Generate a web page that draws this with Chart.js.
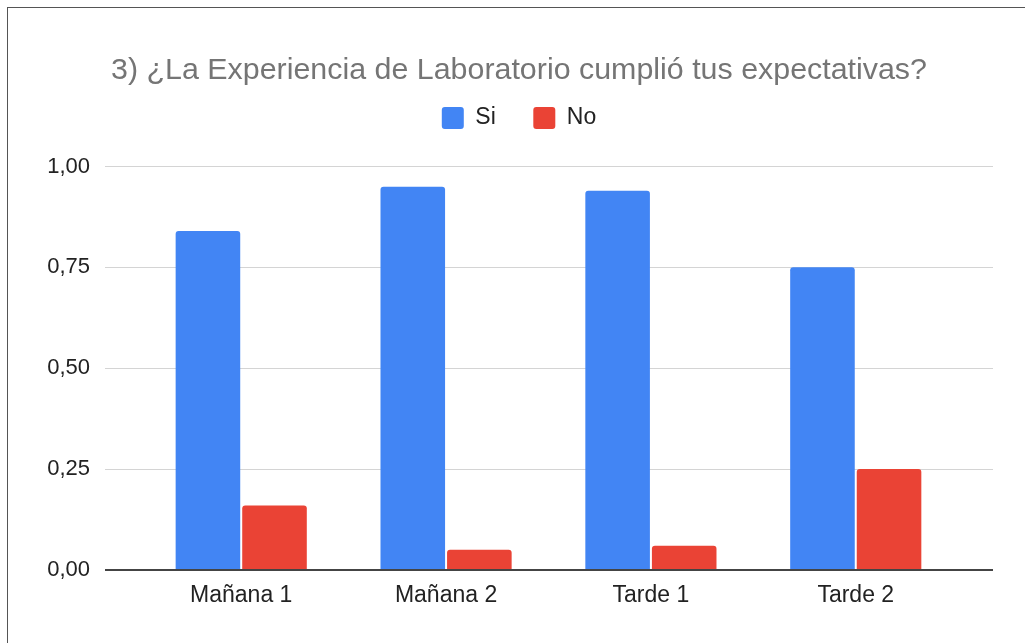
<!DOCTYPE html>
<html>
<head>
<meta charset="utf-8">
<script src="https://cdn.jsdelivr.net/npm/chart.js@4"></script>
<style>
  body { margin: 0; background: #fff; overflow: hidden; }
  #frame { position: absolute; left: 7px; top: 7px; width: 1040px; height: 660px; border-top: 1px solid #555; border-left: 1px solid #555; }
  #wrap { position: absolute; left: 0; top: 0; width: 1025px; height: 643px; }
</style>
</head>
<body>
<div id="frame"></div>
<div id="wrap"><canvas id="chart"></canvas></div>
<script>
const titleText = "3) ¿La Experiencia de Laboratorio cumplió tus expectativas?";
const categories = ["Mañana 1", "Mañana 2", "Tarde 1", "Tarde 2"];
const seriesNames = ["Si", "No"];
const siValues = [0.84, 0.95, 0.94, 0.75];
const noValues = [0.16, 0.05, 0.06, 0.25];
const yTicks = [0, 0.25, 0.5, 0.75, 1];

const font = "'Liberation Sans', Arial, sans-serif";

function toPoints(values) {
  return values.map((v, i) => ({ x: i, y: v }));
}

new Chart(document.getElementById("chart"), {
  type: "bar",
  data: {
    datasets: [
      { label: seriesNames[0] + "    ", data: toPoints(siValues), backgroundColor: "#4285F4" },
      { label: seriesNames[1], data: toPoints(noValues), backgroundColor: "#EA4335" }
    ]
  },
  options: {
    responsive: true,
    maintainAspectRatio: false,
    animation: false,
    categoryPercentage: 0.65,
    barPercentage: 0.97,
    datasets: { bar: { borderRadius: { topLeft: 3, topRight: 3 }, borderSkipped: "bottom" } },
    layout: { padding: { top: 42, left: 45, right: 32, bottom: 0 } },
    plugins: {
      title: {
        display: true,
        text: titleText,
        color: "#757575",
        font: { family: font, size: 30.4, weight: "normal" },
        padding: { top: 10, bottom: 6 }
      },
      legend: {
        labels: {
          color: "#222",
          font: { family: font, size: 23 },
          boxWidth: 22,
          boxHeight: 22,
          padding: 12,
          useBorderRadius: true,
          borderRadius: 3
        }
      },
      subtitle: {
        display: true,
        text: "",
        weight: 500,
        font: { size: 1, lineHeight: 1 },
        padding: { top: 0, bottom: 26 }
      },
      tooltip: { enabled: false }
    },
    scales: {
      x: {
        type: "linear",
        offset: false,
        min: -0.665,
        max: 3.67,
        grid: { display: false, drawTicks: false },
        border: { display: false },
        afterBuildTicks: s => { s.ticks = categories.map((c, i) => ({ value: i })); },
        ticks: {
          autoSkip: false,
          maxRotation: 0,
          color: "#222",
          font: { family: font, size: 23 },
          padding: 12,
          callback: v => categories[v]
        },
        afterFit: s => { s.height = 73; }
      },
      y: {
        min: 0,
        max: 1,
        border: { display: false },
        afterBuildTicks: s => { s.ticks = yTicks.map(v => ({ value: v })); },
        grid: {
          drawTicks: false,
          color: c => c.tick && c.tick.value === 0 ? "#444" : "#d4d4d4",
          lineWidth: c => c.tick && c.tick.value === 0 ? 2 : 1
        },
        ticks: {
          color: "#222",
          font: { family: font, size: 22 },
          padding: 15,
          callback: v => v.toFixed(2).replace(".", ",")
        },
        afterFit: s => { s.width = 60; }
      }
    }
  }
});
</script>
</body>
</html>
